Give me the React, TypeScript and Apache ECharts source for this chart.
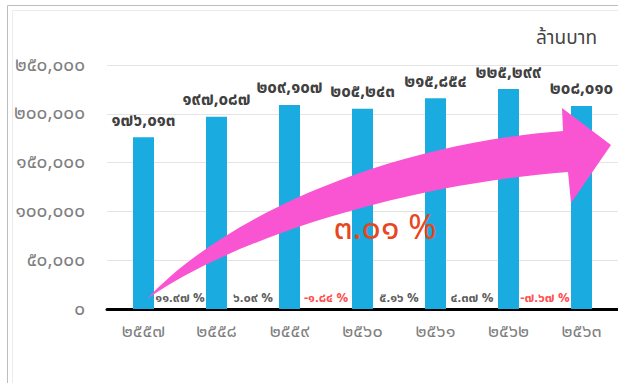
import React, { useEffect, useRef } from "react";
import * as echarts from "echarts";

const years = ["๒๕๕๗", "๒๕๕๘", "๒๕๕๙", "๒๕๖๐", "๒๕๖๑", "๒๕๖๒", "๒๕๖๓"];
const values = [176013, 197087, 209107, 205243, 215854, 225299, 208010];
const valueLabels = ["๑๗๖,๐๑๓", "๑๙๗,๐๘๗", "๒๐๙,๑๐๗", "๒๐๕,๒๔๓", "๒๑๕,๘๕๔", "๒๒๕,๒๙๙", "๒๐๘,๐๑๐"];
const growth = [11.97, 6.09, -1.84, 5.16, 4.37, -7.67];
const growthLabels = ["๑๑.๙๗ %", "๖.๐๙ %", "-๑.๘๔ %", "๕.๑๖ %", "๔.๓๗ %", "-๗.๖๗ %"];
const yTickLabels: Record<number, string> = {
  0: "๐",
  50000: "๕๐,๐๐๐",
  100000: "๑๐๐,๐๐๐",
  150000: "๑๕๐,๐๐๐",
  200000: "๒๐๐,๐๐๐",
  250000: "๒๕๐,๐๐๐",
};
const unitLabel = "ล้านบาท";
const averageGrowthLabel = "๓.๐๑ %";

const FONT = "'Noto Sans Thai', 'Tahoma', 'DejaVu Sans', sans-serif";

const arrowPath =
  "M147 299 C220 220 380 145 563 131 L562 108 L611 145 L571 203 L568 172 C400 185 230 240 147 299 Z";

export default function App() {
  const ref = useRef<HTMLDivElement>(null);
  useEffect(() => {
    if (!ref.current) return;
    const ArrowShape = echarts.graphic.extendPath(arrowPath, {});
    echarts.graphic.registerShape("bigArrow", ArrowShape);
    const chart = echarts.init(ref.current, undefined, { renderer: "svg" });
    chart.setOption({
      animation: false,
      backgroundColor: "#ffffff",
      grid: { left: 107, top: 65, width: 514, height: 244 },
      xAxis: [
        {
          type: "category",
          data: years,
          axisLine: { lineStyle: { color: "#000", width: 3 } },
          axisTick: { show: false },
          axisLabel: { color: "#808080", fontSize: 18, margin: 13, fontFamily: FONT },
        },
        { type: "value", min: 0, max: 7, show: false },
      ],
      yAxis: {
        type: "value",
        min: 0,
        max: 250000,
        interval: 50000,
        axisLine: { show: false },
        axisTick: { show: false },
        splitLine: { lineStyle: { color: "#e4e4e4", width: 1 } },
        axisLabel: {
          color: "#808080",
          fontSize: 19,
          margin: 22,
          fontFamily: FONT,
          formatter: (v: number) => yTickLabels[v] ?? String(v),
        },
      },
      series: [
        {
          type: "bar",
          data: values,
          barWidth: 21,
          itemStyle: { color: "#1AACE0" },
          label: {
            show: true,
            position: "top",
            distance: 8,
            color: "#404040",
            fontSize: 17,
            fontWeight: "bold",
            fontFamily: FONT,
            formatter: (p: any) => valueLabels[p.dataIndex],
          },
          z: 2,
        },
        {
          type: "scatter",
          xAxisIndex: 1,
          symbolSize: 0,
          data: growth.map((g, i) => ({
            value: [i + 1, 0],
            label: { color: g < 0 ? "#FF2020" : "#333" },
          })),
          label: {
            show: true,
            position: "inside",
            offset: [0, -11],
            fontSize: 13,
            fontWeight: "bold",
            fontFamily: FONT,
            formatter: (p: any) => growthLabels[p.dataIndex],
          },
          z: 3,
        },
      ],
      graphic: [
        {
          type: "rect",
          shape: { x: 7.5, y: 5.5, width: 700, height: 500 },
          style: { fill: "none", stroke: "#bdbdbd", lineWidth: 1 },
          silent: true,
        },
        {
          type: "rect",
          shape: { x: 12.5, y: 10.5, width: 700, height: 500 },
          style: { fill: "none", stroke: "#ececec", lineWidth: 1 },
          silent: true,
        },
        {
          type: "bigArrow",
          x: 0,
          y: 0,
          style: { fill: "#F955D3" },
          z: 100,
        },
        {
          type: "text",
          x: 385,
          y: 228,
          z: 110,
          style: {
            text: averageGrowthLabel,
            fill: "#E8461E",
            fontSize: 34,
            fontFamily: FONT,
            align: "center",
            verticalAlign: "middle",
          },
        },
        {
          type: "text",
          x: 597,
          y: 38,
          z: 110,
          style: {
            text: unitLabel,
            fill: "#444",
            fontSize: 19,
            fontFamily: FONT,
            align: "right",
            verticalAlign: "middle",
          },
        },
      ],
    });
    return () => chart.dispose();
  }, []);
  return (
    <div
      ref={ref}
      style={{ position: "absolute", left: 0, top: 0, width: 618, height: 383 }}
    />
  );
}
